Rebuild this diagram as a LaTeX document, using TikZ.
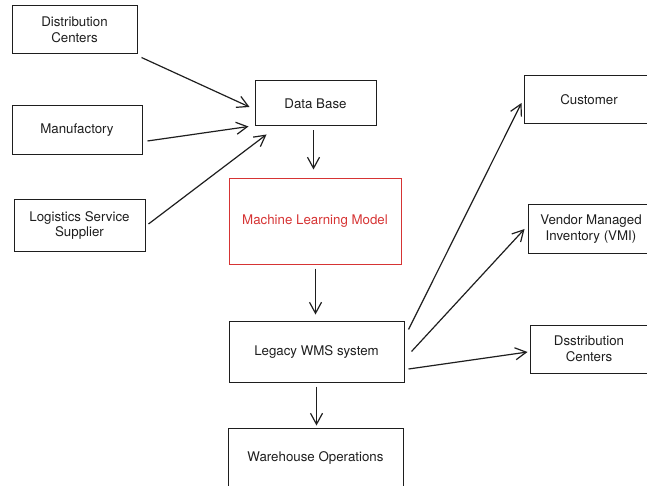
\documentclass[tikz,border=0pt]{standalone}
\usepackage{fontspec}
\setmainfont{TeX Gyre Heros}
\usetikzlibrary{arrows.meta}
\definecolor{mlred}{RGB}{214,52,52}
\definecolor{ink}{RGB}{30,30,30}
\tikzset{
  x=1pt, y=-1pt,
  box/.style={draw=ink, line width=1pt, rectangle, inner sep=0pt, align=center,
    text=ink, font=\fontsize{13.3}{15.5}\selectfont},
  redbox/.style={box, draw=mlred, text=mlred},
  lbl/.style={text=ink, align=center, font=\fontsize{13.3}{15.5}\selectfont},
  flow/.style={draw=ink, line width=1.2pt, -{Straight Barb[length=11pt,width=12pt,line width=1.2pt]}},
}
\begin{document}
\begin{tikzpicture}
\useasboundingbox (0,0) rectangle (647,486);
\clip (0,0) rectangle (647,486);
% sources
\node[box, minimum width=125pt, minimum height=48pt] (dc) at (74.5,30) {Distribution\\Centers};
\node[box, minimum width=130pt, minimum height=49pt] (mf) at (77,130.5) {Manufactory};
\node[box, minimum width=131pt, minimum height=51pt] (ls) at (79.5,225.5) {Logistics Service\\Supplier};
% central column
\node[box, minimum width=121pt, minimum height=45pt] (db) at (315.5,103.5) {Data Base};
\node[redbox, minimum width=172pt, minimum height=85pt] (ml) at (315,221.5) {Machine Learning Model};
\node[box, minimum width=175pt, minimum height=61pt] (wms) at (316.5,351.5) {Legacy WMS system};
\node[box, minimum width=175pt, minimum height=76pt] (wh) at (315.5,466) {};
\node[lbl] (whl) at (315.5,458) {Warehouse Operations};
% destinations (boxes run past the right edge)
\node[box, minimum width=140pt, minimum height=48pt] (cu) at (594,100) {};
\node[lbl] (cul) at (589,99.5) {Customer};
\node[box, minimum width=132pt, minimum height=48pt] (vmi) at (594,229) {};
\node[lbl] (vmil) at (591,229) {Vendor Managed\\Inventory (VMI)};
\node[box, minimum width=130pt, minimum height=48pt] (ds) at (595,349) {};
\node[lbl] (dsl) at (589,349) {Dsstribution\\Centers};
% connectors into the data base
\draw[flow] ([shift={(4,3)}]dc.south east) -- ([shift={(-5,3.5)}]db.west);
\draw[flow] ([shift={(5,10.5)}]mf.east) -- ([shift={(-6,0)}]db.south west);
\draw[flow] ([shift={(3,-1.5)}]ls.east) -- ([shift={(12,8)}]db.south west);
% main column (straight down)
\draw[flow] ([shift={(-2,4)}]db.south) -- ([shift={(-2,-9)}]db.south |- ml.north);
\draw[flow] ([shift={(0.5,4)}]ml.south) -- ([shift={(0.5,-6)}]ml.south |- wms.north);
\draw[flow] ([shift={(0,4)}]wms.south) -- ([shift={(0,-2)}]wms.south |- wh.north);
% fan-out from the WMS
\draw[flow] ([shift={(4,9)}]wms.north east) -- ([shift={(-2,3)}]cu.west);
\draw[flow] ([shift={(7,0)}]wms.east) -- ([shift={(-3,0)}]vmi.west);
\draw[flow] ([shift={(4,17.5)}]wms.east) -- ([shift={(-2,3)}]ds.west);
\end{tikzpicture}
\end{document}
